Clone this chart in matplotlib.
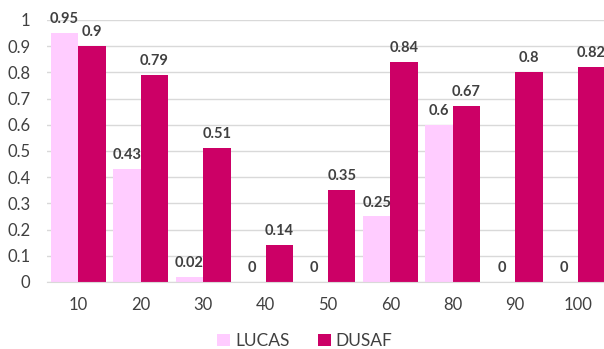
import numpy as np
import matplotlib.pyplot as plt

# Categorías y valores de las dos series
categories = ['10', '20', '30', '40', '50', '60', '80', '90', '100']
lucas = [0.95, 0.43, 0.02, 0, 0, 0.25, 0.6, 0, 0]
dusaf = [0.9, 0.79, 0.51, 0.14, 0.35, 0.84, 0.67, 0.8, 0.82]

plt.rcParams['font.family'] = ['Lato', 'DejaVu Sans']

color_lucas = '#FFCCFF'
color_dusaf = '#CC0066'
text_color = '#404040'
width = 0.44

fig = plt.figure(figsize=(6.04, 3.49), dpi=100)
ax = fig.add_axes([0.078, 0.192, 0.93, 0.751])

x = np.arange(len(categories))
b1 = ax.bar(x - width / 2, lucas, width, color=color_lucas, label='LUCAS', zorder=2)
b2 = ax.bar(x + width / 2, dusaf, width, color=color_dusaf, label='DUSAF', zorder=2)

# Etiquetas de valor encima de cada barra
for bars, vals in ((b1, lucas), (b2, dusaf)):
    for rect, v in zip(bars, vals):
        ax.annotate(f'{v:g}', (rect.get_x() + rect.get_width() / 2, v),
                    xytext=(0, 5), textcoords='offset points',
                    ha='center', va='bottom', fontsize=10.5, fontweight='bold',
                    color=text_color)

ax.set_xlim(-0.5, len(categories) - 0.5)
ax.set_ylim(0, 1)
ax.set_yticks(np.arange(0, 1.01, 0.1))
ax.set_yticklabels([f'{t:g}' for t in np.arange(0, 1.01, 0.1).round(1)])
ax.set_xticks(x)
ax.set_xticklabels(categories)
ax.grid(axis='y', color='#D9D9D9', lw=1, zorder=0)
ax.set_axisbelow(True)
for s in ['top', 'right', 'left']:
    ax.spines[s].set_visible(False)
ax.spines['bottom'].set_color('#D9D9D9')
ax.tick_params(axis='both', length=0, labelsize=12, colors=text_color)
ax.tick_params(axis='x', pad=11)
ax.tick_params(axis='y', pad=12)

ax.legend(loc='center', bbox_to_anchor=(0.5 / 0.93 - 0.078 / 0.93 + 0.005, -0.225),
          ncol=2, frameon=False, fontsize=12.5, handlelength=0.75, handleheight=0.75,
          handletextpad=0.3, columnspacing=1.6, labelcolor=text_color)

fig.savefig('out.png', dpi=100)
